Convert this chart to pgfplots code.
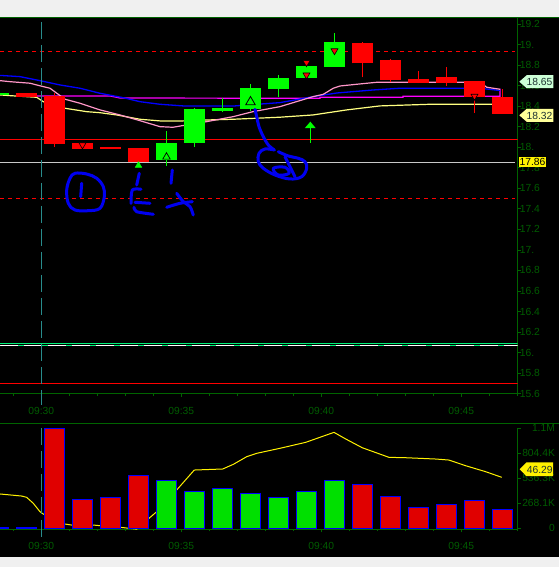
\documentclass[border=0pt]{standalone}
\usepackage{pgfplots}
\pgfplotsset{compat=1.18}
\usepackage{pgfplotstable}
\usepackage{fontspec}
\setmainfont{Liberation Sans}
\usetikzlibrary{arrows.meta}

\definecolor{bggray}{RGB}{240,240,240}
\definecolor{axgreen}{RGB}{0,100,0}
\definecolor{lblgreen}{RGB}{0,92,0}
\definecolor{candlered}{RGB}{255,0,0}
\definecolor{candlegreen}{RGB}{0,255,0}
\definecolor{volred}{RGB}{224,0,0}
\definecolor{volgreen}{RGB}{0,224,0}
\definecolor{tealdash}{RGB}{40,140,140}
\definecolor{maBlue}{RGB}{0,0,255}
\definecolor{maPink}{RGB}{255,150,200}
\definecolor{maYellow}{RGB}{255,255,128}
\definecolor{maMag}{RGB}{255,0,255}
\definecolor{lvlgreen}{RGB}{0,240,120}
\definecolor{lvlgray}{RGB}{200,200,200}
\definecolor{mint}{RGB}{204,255,214}
\definecolor{paleyel}{RGB}{255,255,153}
\definecolor{annot}{RGB}{0,0,240}
\definecolor{boxtext}{RGB}{30,50,50}

\newcommand\lbl{\fontsize{10.3}{12}\selectfont}

% candles: x = bar index (0 = 09:30 bar)
\pgfplotstableread{
x o h l c
-2 18.511 18.531 18.511 18.531
4 17.879 18.158 17.820 18.041
5 18.044 18.385 18.005 18.372
6 18.353 18.477 18.343 18.385
7 18.375 18.616 18.353 18.577
8 18.570 18.700 18.492 18.674
9 18.677 18.791 18.677 18.791
10 18.784 19.109 18.784 19.025
}\upc
\pgfplotstableread{
x o h l c
-1 18.531 18.531 18.492 18.492
0 18.499 18.525 18.005 18.032
1 18.041 18.041 17.986 17.986
2 18.005 18.005 17.986 17.986
3 17.993 17.993 17.853 17.853
11 19.012 19.022 18.681 18.817
12 18.849 18.859 18.632 18.655
13 18.664 18.745 18.623 18.628
14 18.687 18.778 18.596 18.628
15 18.645 18.645 18.336 18.492
16 18.486 18.564 18.327 18.327
}\dnc
% volume (thousands)
\pgfplotstableread{
x v
0 1072
1 311
2 332
3 568
11 472
12 343
13 225
14 250
15 300
16 204
}\volred
\pgfplotstableread{
x v
4 515
5 397
6 429
7 375
8 332
9 397
10 515
}\volgreen
\pgfplotstableread{
x v
-2 8
-1 8
}\volpre

\begin{document}
\begin{tikzpicture}[x=1pt,y=1pt]
\useasboundingbox (0,0) rectangle (559,567);
\fill[bggray] (0,0) rectangle (559,567);
\fill[black] (0,9.5) rectangle (559,550);

\pgfplotsset{
  chartbase/.style={
    scale only axis, width=517.7pt,
    xmin=-1.946, xmax=16.543,
    axis x line=bottom, axis y line=right,
    axis line style={axgreen, line width=1pt, -},
    tick style={axgreen, line width=0.8pt},
    tick align=outside, major tick length=3pt, minor tick length=2pt,
    xtick={-0.471,4.529,9.529,14.529},
    xticklabels={09:30,09:35,09:40,09:45},
    minor xtick={-1.471,-0.471,...,16.6},
    xticklabel style={font=\lbl, text=lblgreen, anchor=north, inner sep=0pt, yshift=-10pt},
    yticklabel style={font=\lbl, text=lblgreen, anchor=west, inner sep=0pt, xshift=-1pt},
    clip=true,
  },
  candle/.style={quiver={u=0, v=\thisrow{h}-\thisrow{l}}, mark=none, line width=1.2pt},
  body/.style={quiver={u=0, v=abs(\thisrow{o}-\thisrow{c})}, mark=none, line width=21pt},
}

% ---------------- price panel ----------------
\begin{axis}[chartbase, at={(0pt,173pt)}, anchor=south west,
  height=376pt, ymin=15.597, ymax=19.258,
  ytick={15.6,15.8,16.0,16.2,16.4,16.6,16.8,17.0,17.2,17.4,17.6,17.8,18.0,18.2,18.4,18.6,18.8,19.0,19.2},
  yticklabels={15.6,15.8,16.,16.2,16.4,16.6,16.8,17.,17.2,17.4,17.6,17.8,18.,18.2,18.4,18.6,18.8,19.,19.2},
]
% level lines
\addplot[candlered, line width=1pt, dash pattern=on 4pt off 4pt] coordinates {(-1.946,18.934) (16.45,18.934)};
\addplot[candlered, line width=1pt] coordinates {(-1.946,18.077) (16.543,18.077)};
\addplot[lvlgray, line width=1pt] coordinates {(-1.946,17.853) (16.45,17.853)};
\addplot[candlered, line width=1pt, dash pattern=on 4pt off 4pt] coordinates {(-1.946,17.503) (16.45,17.503)};
\addplot[lvlgreen, line width=1pt] coordinates {(-1.946,16.084) (16.543,16.084)};
\addplot[white, line width=1pt, dash pattern=on 18pt off 6pt] coordinates {(-1.946,16.071) (16.543,16.071)};
\addplot[lvlgreen, line width=1pt, dash pattern=on 6pt off 18pt, dash phase=-18pt] coordinates {(-1.946,16.071) (16.543,16.071)};
\addplot[candlered, line width=1pt] coordinates {(-1.946,15.701) (16.543,15.701)};

% moving averages
\addplot[maYellow, line width=1.2pt] coordinates {
(-1.946,18.509) (-1.589,18.502) (-0.993,18.492) (-0.636,18.486) (-0.400,18.443)
(0.375,18.379) (1.150,18.346) (1.625,18.336) (2.221,18.314) (3.054,18.272)
(3.768,18.256) (4.589,18.256) (5.436,18.265) (6.375,18.272) (8.054,18.292)
(9.232,18.314) (10.436,18.363) (11.625,18.402) (13.411,18.418) (15.911,18.418)};
\addplot[maMag, line width=1.2pt] coordinates {
(-0.636,18.499) (1.982,18.499) (2.339,18.479) (9.482,18.476) (9.482,18.486)
(12.446,18.486) (12.446,18.496) (15.911,18.496) (15.911,18.570)};
\addplot[maBlue, line width=1.3pt] coordinates {
(-1.946,18.699) (-1.232,18.687) (-0.518,18.648) (0.196,18.606) (0.911,18.574)
(1.625,18.525) (2.457,18.482) (3.054,18.443) (3.768,18.418) (4.589,18.402)
(6.446,18.402) (8.054,18.434) (8.589,18.460) (9.232,18.492) (10.089,18.528)
(11.375,18.557) (12.339,18.574) (15.196,18.574) (15.911,18.552)};
\addplot[maPink, line width=1.2pt] coordinates {
(-1.946,18.648) (-1.589,18.638) (-0.875,18.623) (-0.636,18.606) (-0.161,18.574)
(0.375,18.467) (0.911,18.428) (1.625,18.363) (2.339,18.314) (3.054,18.258)
(3.768,18.200) (4.232,18.194) (4.721,18.217) (5.436,18.249) (6.375,18.297)
(7.089,18.346) (8.054,18.395) (9.232,18.492) (9.600,18.515) (9.957,18.574)
(10.196,18.596) (10.911,18.616) (11.507,18.632) (15.196,18.632) (15.436,18.584)
(15.911,18.564)};

% wicks (low -> high)
\addplot[candle, candlegreen] table[x=x, y=l] {\upc};
\addplot[candle, candlered] table[x=x, y=l] {\dnc};
% bodies (min(open,close) -> max(open,close))
\addplot[body, candlegreen] table[x=x, y=o] {\upc};
\addplot[body, candlered] table[x=x, y=c] {\dnc};

% signal markers
\addplot[only marks, mark=triangle*, mark size=4pt,
  mark options={rotate=180, fill=candlered, draw=black, line width=0.6pt}]
  coordinates {(1,18.022) (9,18.823) (9,18.703) (10,18.939) (15,18.496)};
\addplot[only marks, mark=triangle*, mark size=3.8pt,
  mark options={fill=candlegreen, draw=candlegreen}] coordinates {(3,17.822)};
\addplot[only marks, mark=triangle*, mark size=4.3pt,
  mark options={fill=candlegreen, draw=black, line width=0.7pt}] coordinates {(4,17.905)};
\addplot[only marks, mark=triangle*, mark size=5.5pt,
  mark options={fill=candlegreen, draw=black, line width=0.8pt}] coordinates {(7,18.44)};
\addplot[candlegreen, line width=1.3pt, mark=none, -{Triangle[length=6.5pt,width=10.5pt]},
  quiver={u=0, v=\thisrow{v}}] table {
x y v
9.136 18.044 0.205
};
\end{axis}

% ---------------- volume panel ----------------
\begin{axis}[chartbase, at={(0pt,37.7pt)}, anchor=south west,
  height=101pt, ymin=-10.7, ymax=1072.5,
  ytick={0,268.1,536.3,804.4,1072.5},
  yticklabels={\makebox[35pt][r]{0},\makebox[35pt][r]{268.1K},\makebox[35pt][r]{536.3K},\makebox[35pt][r]{804.4K},\makebox[35pt][r]{1.1M}},
]
\addplot[yellow, line width=1pt] coordinates {
(-1.946,368) (-1.171,346) (-0.993,332) (-0.757,268) (-0.518,178) (-0.400,153)
(0.364,46) (0.614,35) (1.386,35) (1.625,28) (2.339,11) (2.936,-9) (3.375,107)
(3.650,178) (4.364,411) (4.993,625) (6.007,636) (6.386,686) (6.864,768)
(7.221,804) (8.054,858) (8.971,922) (9.982,1029) (10.400,958) (10.993,864)
(11.946,761) (12.543,757) (13.614,743) (14.089,732) (14.686,671) (15.400,607)
(15.971,547)};
\addplot[ybar, bar width=19.3pt, bar shift=0pt, fill=volred, draw=blue, line width=1pt] table[x=x,y=v] {\volred};
\addplot[ybar, bar width=19.3pt, bar shift=0pt, fill=volgreen, draw=blue, line width=1pt] table[x=x,y=v] {\volgreen};
\addplot[ybar, bar width=19.3pt, bar shift=0pt, fill=blue, draw=blue, line width=1pt] table[x=x,y=v] {\volpre};
\end{axis}

% ---------------- overlays (pixel coordinates, y downward) ----------------
\begin{scope}[shift={(0,567)}, yscale=-1]
\draw[axgreen, line width=1pt] (0,17.5) -- (559,17.5);
\draw[axgreen, line width=1pt] (0,423.3) -- (559,423.3);
\draw[tealdash, line width=1pt, dash pattern=on 17pt off 6pt] (41.3,22) -- (41.3,405);
\draw[tealdash, line width=1pt, dash pattern=on 17pt off 6pt] (41.3,428) -- (41.3,540);

% value boxes
\fill[mint] (519.3,81.7) -- (526.7,75.2) -- (553.3,75.2) -- (553.3,88.2) -- (526.7,88.2) -- cycle;
\node[text=boxtext, font=\lbl, inner sep=0pt] at (539.5,81.9) {18.65};
\fill[paleyel] (519.3,115.3) -- (526.7,108.8) -- (553.3,108.8) -- (553.3,121.8) -- (526.7,121.8) -- cycle;
\node[text=boxtext, font=\lbl, inner sep=0pt] at (539.5,115.5) {18.32};
\fill[yellow] (519.3,157.3) rectangle (545.7,166.9);
\node[text=black, font=\lbl, inner sep=0pt] at (532.5,162.2) {17.86};
\fill[yellow] (519.7,469.3) -- (526.3,462.5) -- (553,462.5) -- (553,476.1) -- (526.3,476.1) -- cycle;
\node[text=boxtext, font=\lbl, inner sep=0pt] at (539.7,469.5) {46.29};

% hand-drawn annotations
\begin{scope}[annot, line width=3pt, line cap=round, line join=round]
\draw plot[smooth cycle, tension=0.6] coordinates {(75,173.3) (86.7,174) (96.7,178.3) (103.3,186.7) (104.3,196.7) (100,208.3) (88.3,210.7) (75,210) (68.3,203.3) (66.7,190) (70,178.3)};
\draw (81.7,183.3) -- (80.7,196.7);
\draw (139.3,173.3) -- (136.7,185);
\draw plot[smooth, tension=0.5] coordinates {(141,189.3) (132.3,190) (131,203.3)};
\draw (135,202.3) -- (150,203.3);
\draw plot[smooth, tension=0.5] coordinates {(134,207.3) (136.7,211.7) (153.3,214.3)};
\draw (172.3,170) -- (171,183.3);
\draw plot[smooth, tension=0.5] coordinates {(176.7,193.3) (183.3,201.7) (190,206.7) (193.3,215)};
\draw plot[smooth, tension=0.5] coordinates {(166.7,207.3) (180,203.3) (192.3,201.7)};
\draw plot[smooth, tension=0.5] coordinates {(255,109.3) (256.7,116.7) (259,126.7) (263.3,136.7) (268.3,145) (274.3,150)};
\draw plot[smooth, tension=0.6] coordinates {(274.3,150) (265,149) (259,153.3) (258.3,161.7) (263.3,168.3) (275,175) (290,179) (301.7,176.7) (306.7,168.3) (305,161.7) (298.3,158.3) (288.3,156) (278.3,151.7)};
\draw plot[smooth cycle, tension=0.6] coordinates {(273.3,168.3) (285,167.3) (289,173.3) (278.3,175)};
\draw plot[smooth, tension=0.5] coordinates {(285,156.7) (288.3,163.3) (295,176.7)};
\end{scope}
\end{scope}
\end{tikzpicture}
\end{document}
